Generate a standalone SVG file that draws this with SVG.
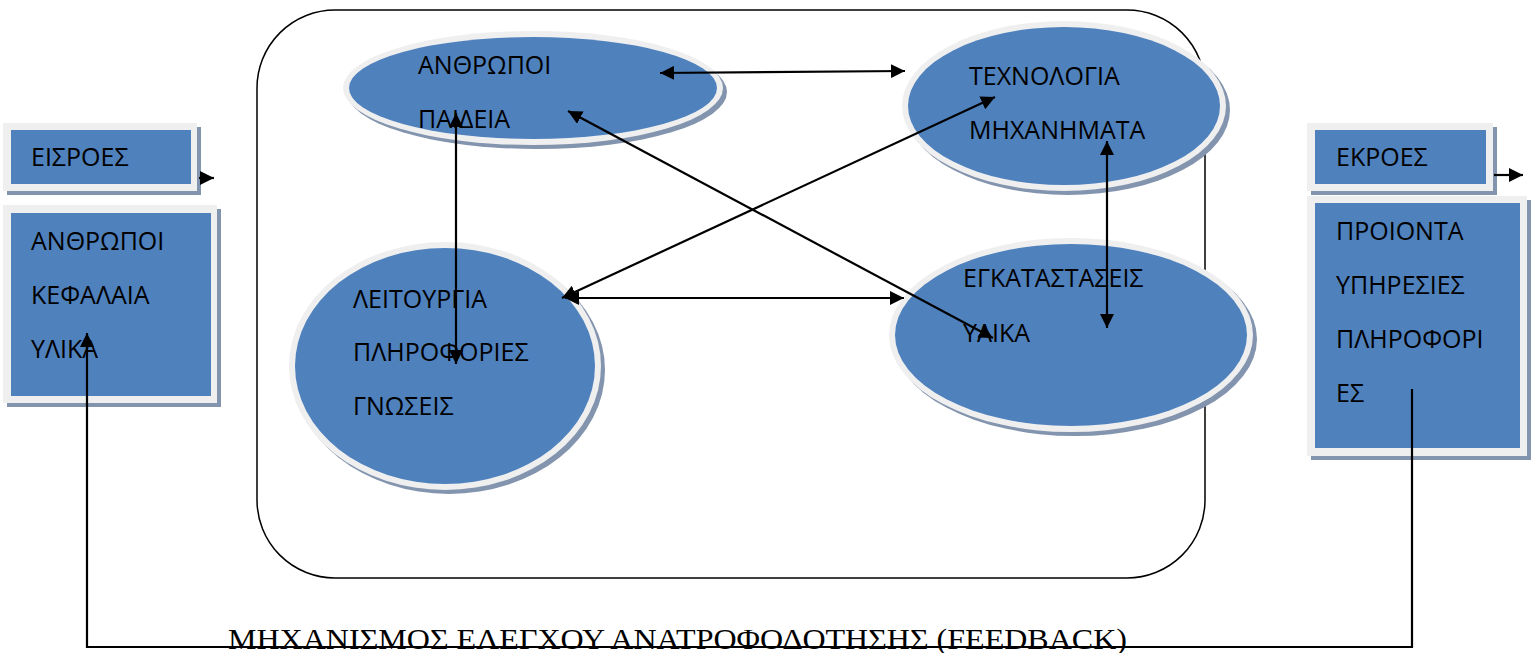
<svg xmlns="http://www.w3.org/2000/svg" width="1538" height="653" viewBox="0 0 1538 653">
<defs>
<style>
.t{font-family:"Open Sans","Noto Sans","DejaVu Sans",sans-serif;font-size:25px;fill:#000}
.sh{fill:#8394AE}
.ring{fill:#EFEFEF}
.blue{fill:#4F81BD}
.ln{stroke:#000;stroke-width:2.2;fill:none}
.fb{font-family:"Liberation Serif","Times New Roman",serif;font-size:29px;fill:#000}
</style>
<marker id="ah" viewBox="0 0 10 10" refX="10" refY="5" markerWidth="14" markerHeight="14" markerUnits="userSpaceOnUse" orient="auto-start-reverse">
<path d="M0,0 L10,5 L0,10 z" fill="#000"/>
</marker>
</defs>
<rect width="1538" height="653" fill="#fff"/>
<g id="container">
<rect x="257" y="10" width="948" height="568" rx="78" ry="78" fill="none" stroke="#000" stroke-width="1.5"/>
</g>
<g id="node-anthropoi">
<ellipse class="sh" cx="537" cy="92" rx="190" ry="57"/>
<ellipse class="ring" cx="533" cy="88" rx="190" ry="57"/>
<ellipse class="blue" cx="533" cy="88" rx="184" ry="51"/>
<text class="t" x="418" y="74">ΑΝΘΡΩΠΟΙ</text>
<text class="t" x="418" y="128">ΠΑΙΔΕΙΑ</text>
</g>
<g id="node-technologia">
<ellipse class="sh" cx="1068" cy="110" rx="162" ry="85"/>
<ellipse class="ring" cx="1064" cy="106" rx="162" ry="85"/>
<ellipse class="blue" cx="1064" cy="106" rx="156" ry="79"/>
<text class="t" x="969" y="85">ΤΕΧΝΟΛΟΓΙΑ</text>
<text class="t" x="969" y="139">ΜΗΧΑΝΗΜΑΤΑ</text>
</g>
<g id="node-leitourgia">
<ellipse class="sh" cx="449" cy="370" rx="156" ry="124"/>
<ellipse class="ring" cx="445" cy="366" rx="156" ry="124"/>
<ellipse class="blue" cx="445" cy="366" rx="150" ry="118"/>
<text class="t" x="353" y="308">ΛΕΙΤΟΥΡΓΙΑ</text>
<text class="t" x="353" y="361">ΠΛΗΡΟΦΟΡΙΕΣ</text>
<text class="t" x="353" y="415">ΓΝΩΣΕΙΣ</text>
</g>
<g id="node-egkatastaseis">
<ellipse class="sh" cx="1075" cy="339" rx="182" ry="97"/>
<ellipse class="ring" cx="1071" cy="335" rx="182" ry="97"/>
<ellipse class="blue" cx="1071" cy="335" rx="176" ry="91"/>
<text class="t" x="963" y="287">ΕΓΚΑΤΑΣΤΑΣΕΙΣ</text>
<text class="t" x="963" y="342">ΥΛΙΚΑ</text>
</g>
<g id="node-eisroes">
<rect class="sh" x="7" y="127" width="194" height="68"/>
<rect class="ring" x="3" y="123" width="194" height="68"/>
<rect class="blue" x="11" y="130" width="180" height="54"/>
<text class="t" x="31" y="166">ΕΙΣΡΟΕΣ</text>
</g>
<g id="node-eisroes-list">
<rect class="sh" x="7" y="209" width="214" height="198"/>
<rect class="ring" x="3" y="205" width="214" height="198"/>
<rect class="blue" x="11" y="213" width="200" height="183"/>
<text class="t" x="31" y="250">ΑΝΘΡΩΠΟΙ</text>
<text class="t" x="31" y="304">ΚΕΦΑΛΑΙΑ</text>
<text class="t" x="31" y="358">ΥΛΙΚΑ</text>
</g>
<g id="node-ekroes">
<rect class="sh" x="1311" y="127" width="186" height="68"/>
<rect class="ring" x="1307" y="123" width="186" height="68"/>
<rect class="blue" x="1315" y="130" width="171" height="54"/>
<text class="t" x="1336" y="166">ΕΚΡΟΕΣ</text>
</g>
<g id="node-ekroes-list">
<rect class="sh" x="1311" y="200" width="220" height="260"/>
<rect class="ring" x="1307" y="196" width="220" height="260"/>
<rect class="blue" x="1315" y="203" width="205" height="245"/>
<text class="t" x="1336" y="240">ΠΡΟΙΟΝΤΑ</text>
<text class="t" x="1336" y="294">ΥΠΗΡΕΣΙΕΣ</text>
<text class="t" x="1336" y="348">ΠΛΗΡΟΦΟΡΙ</text>
<text class="t" x="1336" y="402">ΕΣ</text>
</g>
<g id="connectors">
<line class="ln" x1="660" y1="73" x2="905" y2="71" marker-start="url(#ah)" marker-end="url(#ah)"/>
<line class="ln" x1="456" y1="113" x2="456" y2="364" marker-start="url(#ah)" marker-end="url(#ah)"/>
<line class="ln" x1="568" y1="111" x2="993" y2="338" marker-start="url(#ah)" marker-end="url(#ah)"/>
<line class="ln" x1="995" y1="97" x2="562" y2="298" marker-start="url(#ah)" marker-end="url(#ah)"/>
<line class="ln" x1="565" y1="298" x2="904" y2="298" marker-start="url(#ah)" marker-end="url(#ah)"/>
<line class="ln" x1="1107" y1="141" x2="1107" y2="328" marker-start="url(#ah)" marker-end="url(#ah)"/>
<line class="ln" x1="199" y1="178" x2="214" y2="178" marker-end="url(#ah)"/>
<line class="ln" x1="1494" y1="175" x2="1523" y2="175" marker-end="url(#ah)"/>
<polyline class="ln" points="1412,389 1412,647 87,647 87,333" marker-end="url(#ah)"/>
</g>
<g id="feedback-label">
<text class="fb" x="228" y="649" textLength="899" lengthAdjust="spacingAndGlyphs">ΜΗΧΑΝΙΣΜΟΣ ΕΛΕΓΧΟΥ ΑΝΑΤΡΟΦΟΔΟΤΗΣΗΣ (FEEDBACK)</text>
</g>
</svg>
